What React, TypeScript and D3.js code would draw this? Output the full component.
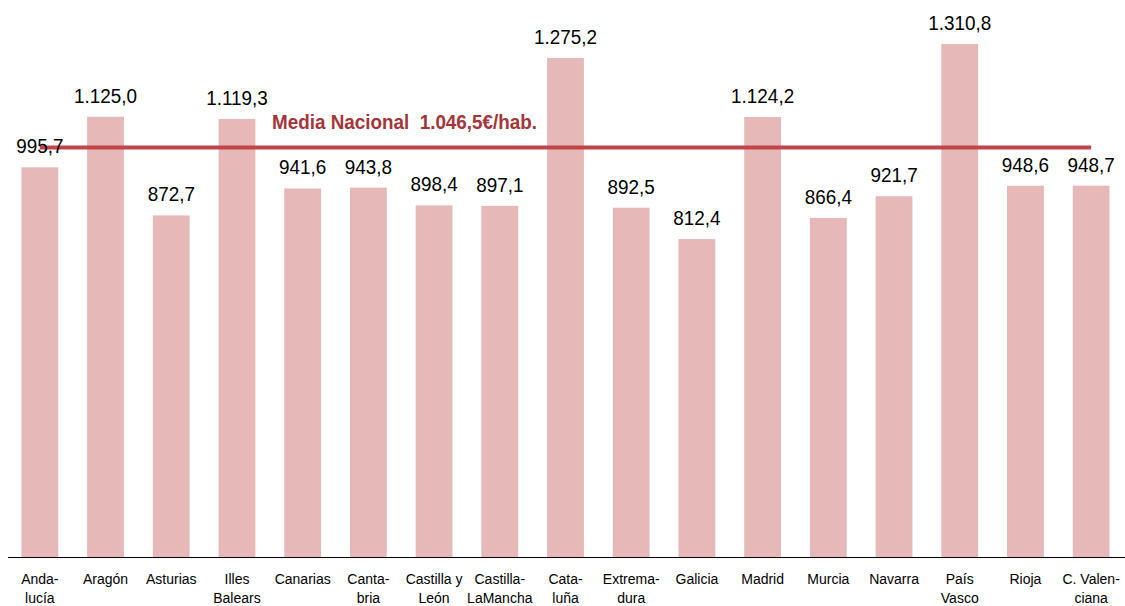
import React from "react";
import * as d3 from "d3";

const categories: string[][] = [
  ["Anda-", "lucía"],
  ["Aragón"],
  ["Asturias"],
  ["Illes", "Balears"],
  ["Canarias"],
  ["Canta-", "bria"],
  ["Castilla y", "León"],
  ["Castilla-", "LaMancha"],
  ["Cata-", "luña"],
  ["Extrema-", "dura"],
  ["Galicia"],
  ["Madrid"],
  ["Murcia"],
  ["Navarra"],
  ["País", "Vasco"],
  ["Rioja"],
  ["C. Valen-", "ciana"],
];
const values: number[] = [
  995.7, 1125.0, 872.7, 1119.3, 941.6, 943.8, 898.4, 897.1, 1275.2, 892.5,
  812.4, 1124.2, 866.4, 921.7, 1310.8, 948.6, 948.7,
];
const mediaNacional = 1046.5;
const mediaLabel = "Media Nacional\u00A0 1.046,5€/hab.";

const W = 1125;
const H = 606;
const FONT = "'Liberation Sans Narrow', 'Arial Narrow', 'Liberation Sans', Arial, sans-serif";

const fmt = (v: number) => {
  const [i, d] = v.toFixed(1).split(".");
  const ii = i.replace(/\B(?=(\d{3})+(?!\d))/g, ".");
  return ii + "," + d;
};

export default function App() {
  const x = d3
    .scaleBand<number>()
    .domain(d3.range(values.length))
    .range([7, 1124])
    .paddingInner(0.44)
    .paddingOuter(0.22);
  const y = d3.scaleLinear().domain([0, 1310.8]).range([557, 44]);
  const yMean = y(mediaNacional);
  const cx = (i: number) => x(i)! + x.bandwidth() / 2;

  return (
    <svg
      width={W}
      height={H}
      style={{ position: "absolute", left: 0, top: 0, background: "#fff" }}
      fontFamily={FONT}
    >
      {values.map((v, i) => (
        <rect
          key={i}
          x={x(i)}
          y={y(v)}
          width={x.bandwidth()}
          height={557 - y(v)}
          fill="#e6b8b8"
        />
      ))}
      <line x1={8} x2={1125} y1={557.5} y2={557.5} stroke="#000" strokeWidth={1.2} />
      <line
        x1={cx(0)}
        x2={cx(values.length - 1)}
        y1={yMean}
        y2={yMean}
        stroke="#c0454a"
        strokeWidth={4}
      />
      {values.map((v, i) => (
        <text
          key={"v" + i}
          transform={`translate(${cx(i)},${y(v) - 14}) scale(0.9,1)`}
          textAnchor="middle"
          fontSize={21}
          fill="#000"
        >
          {fmt(v)}
        </text>
      ))}
      <text
        x={272}
        y={129}
        fontSize={21}
        fontWeight="bold"
        fill="#a3363a"
        textLength={265}
        lengthAdjust="spacingAndGlyphs"
      >
        {mediaLabel}
      </text>
      {categories.map((lines, i) =>
        lines.map((l, j) => (
          <text
            key={"c" + i + "-" + j}
            x={cx(i)}
            y={584 + j * 19}
            textAnchor="middle"
            fontSize={14}
            fill="#000"
          >
            {l}
          </text>
        ))
      )}
    </svg>
  );
}
